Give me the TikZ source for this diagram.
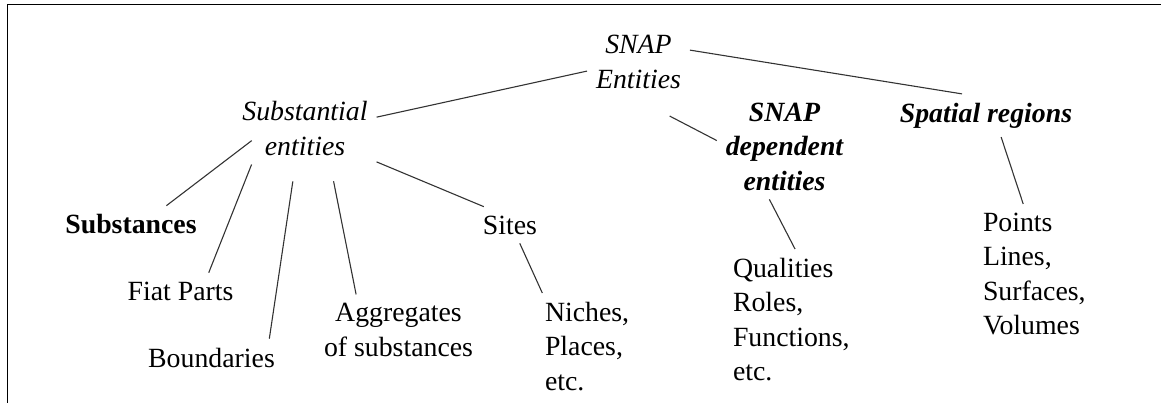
\documentclass[tikz,border=0pt]{standalone}
\usepackage{fontspec}
\setmainfont{Liberation Serif}
\newcommand{\termsize}{\fontsize{27.8}{34.5}\selectfont}

\begin{document}
\begin{tikzpicture}[x=1pt, y=-1pt,
    term/.style={inner sep=9pt, outer sep=0pt, font=\termsize},
    group/.style={term, align=center},
    list/.style={term, align=left, anchor=north west},
    it/.style={font=\termsize\itshape},
    bfit/.style={font=\termsize\bfseries\itshape},
    bf/.style={font=\termsize\bfseries},
    frame/.style={line width=1.6pt},
    edge/.style={line width=1.1pt, black!80}]
  \useasboundingbox (0,0) rectangle (1161,403);
  \draw[frame] (1161,4.5) -- (7.5,4.5) -- (7.5,403);
  % the three top levels
  \node[group, it] (snap) at (638.5,62) {SNAP\\Entities};
  \node[group, it] (subst) at (305,128.5) {Substantial\\entities};
  \node[group, bfit] (dep) at (784.5,146.5) {SNAP\\dependent\\entities};
  \node[term, bfit] (spat) at (986,115.5) {Spatial regions};
  % kinds of substantial entities
  \node[term, bf] (sbs) at (131,224.5) {Substances};
  \node[term] (fiat) at (180.5,291) {Fiat Parts};
  \node[term] (bound) at (211.5,357.5) {Boundaries};
  \node[group] (aggr) at (398.5,330) {Aggregates\\of substances};
  \node[term] (sites) at (510,225) {Sites};
  % the lists at the bottom
  \node[list] (niches) at (536,293) {Niches,\\Places,\\etc.};
  \node[list] (qual) at (724,249) {Qualities\\Roles,\\Functions,\\etc.};
  \node[list] (points) at (974,204) {Points\\Lines,\\Surfaces,\\Volumes};
  % connectors
  \draw[edge] (snap.190) -- (subst.9);
  \draw[edge] (snap.13) -- (spat.138);
  \draw[edge, shorten <=40pt] (snap.-97) -- (dep.175);
  \draw[edge, shorten <=-23pt] (subst.200) -- (sbs.28);
  \draw[edge] (subst.214) -- (fiat.33);
  \draw[edge, shorten <=17pt] (subst.-105) -- (bound.18);
  \draw[edge, shorten <=17pt] (subst.-55) -- (aggr.140);
  \draw[edge] (subst.-25) -- (sites.145);
  \draw[edge] (sites.-62) -- (niches.130);
  \draw[edge] (dep.-106) -- (qual.87);
  \draw[edge] (spat.-55) -- (points.99);
\end{tikzpicture}
\end{document}
